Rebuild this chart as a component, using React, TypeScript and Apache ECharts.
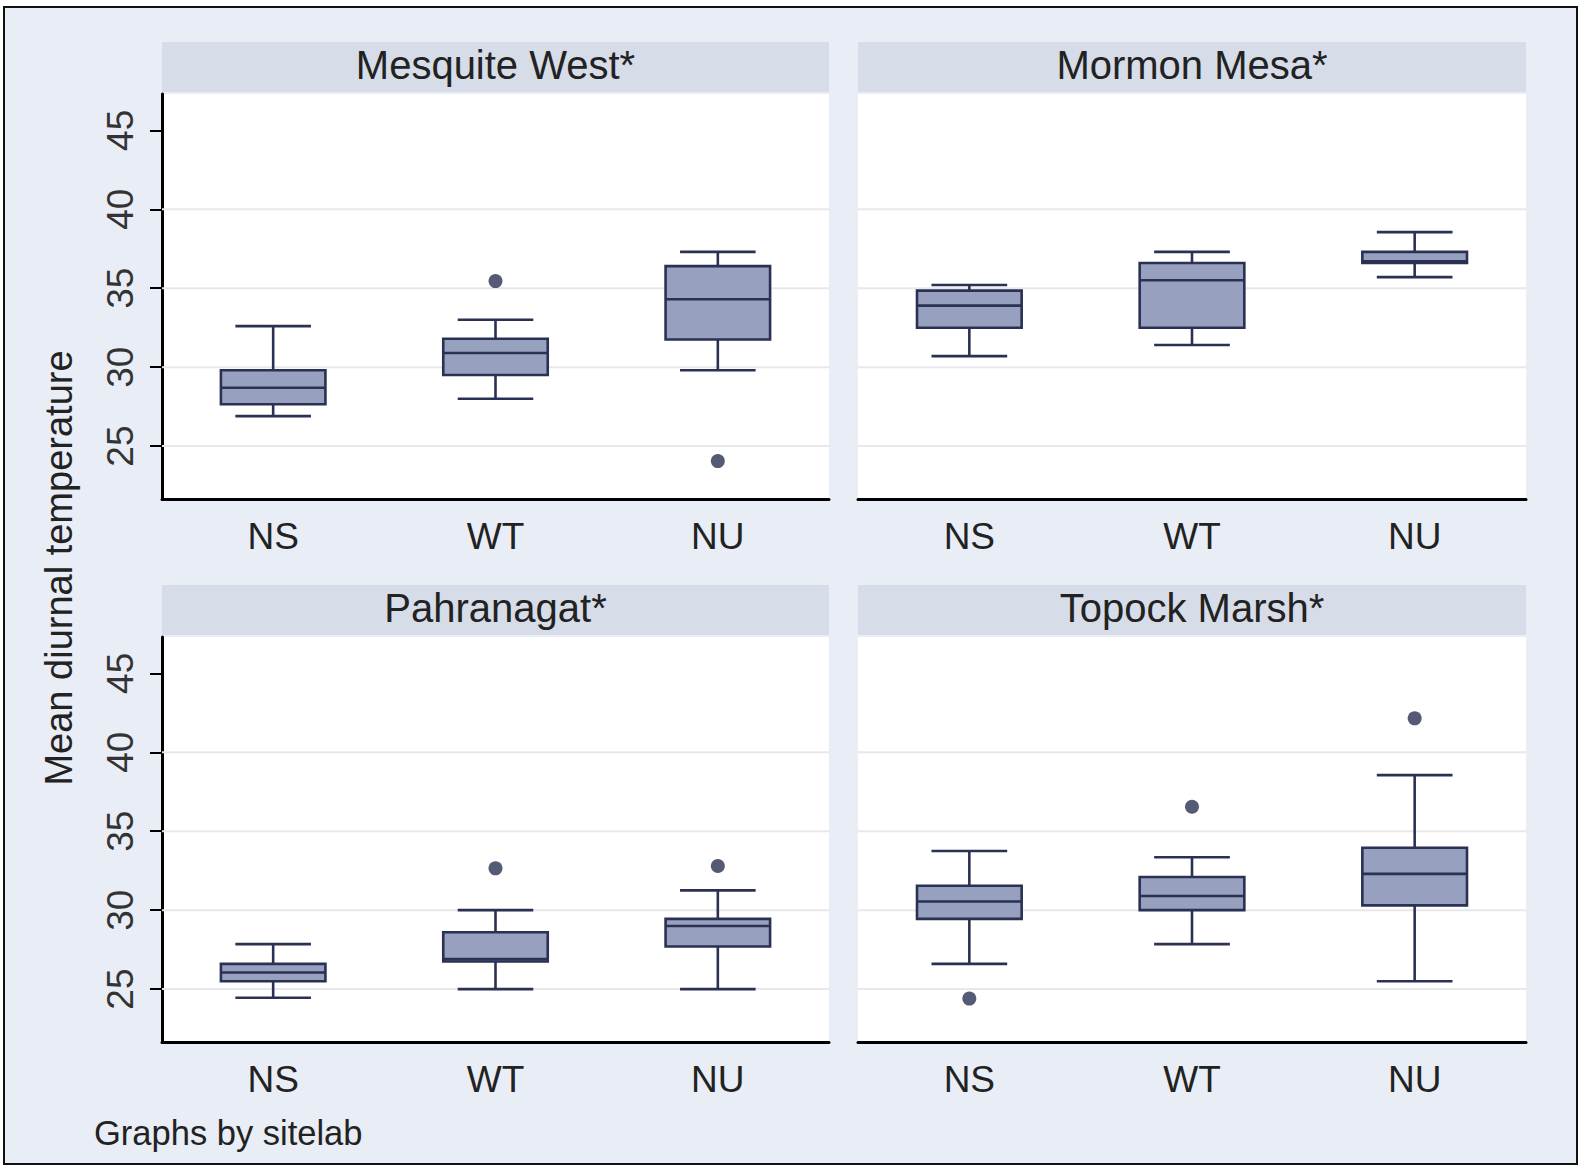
import React, { useEffect, useRef } from 'react';
import * as echarts from 'echarts';

// Groups on the x axis and the four sites shown as panels
const groups = ['NS', 'WT', 'NU'];
const sites = ['Mesquite West*', 'Mormon Mesa*', 'Pahranagat*', 'Topock Marsh*'];
const yTicks = [25, 30, 35, 40, 45];
const gridValues = [25, 30, 35, 40];

// Box summaries per group (NS, WT, NU): [lower whisker, Q1, median, Q3, upper whisker]
const mesquiteWest = [
  [26.9, 27.65, 28.7, 29.8, 32.6],
  [28.0, 29.5, 30.9, 31.8, 33.0],
  [29.8, 31.75, 34.3, 36.4, 37.3],
];
const mormonMesa = [
  [30.7, 32.5, 33.9, 34.85, 35.2],
  [31.4, 32.5, 35.5, 36.6, 37.3],
  [35.7, 36.6, 36.7, 37.3, 38.55],
];
const pahranagat = [
  [24.45, 25.5, 26.05, 26.6, 27.85],
  [25.0, 26.75, 26.9, 28.6, 30.0],
  [25.0, 27.7, 29.0, 29.45, 31.25],
];
const topockMarsh = [
  [26.6, 29.45, 30.55, 31.55, 33.75],
  [27.85, 30.0, 30.9, 32.1, 33.35],
  [25.5, 30.3, 32.3, 33.95, 38.55],
];

// Outside values: [group index, temperature]
const mesquiteWestOutliers = [[1, 35.45], [2, 24.05]];
const mormonMesaOutliers: number[][] = [];
const pahranagatOutliers = [[1, 32.65], [2, 32.8]];
const topockMarshOutliers = [[0, 24.4], [1, 36.55], [2, 42.15]];

const boxes = [mesquiteWest, mormonMesa, pahranagat, topockMarsh];
const outliers = [mesquiteWestOutliers, mormonMesaOutliers, pahranagatOutliers, topockMarshOutliers];

const FONT = '"Liberation Sans", Arial, sans-serif';
const INK = '#2a3152';
const BOX_FILL = '#97a1bf';
const HEADER_FILL = '#d6dce8';

// Panel geometry: [left, top, width, height]
const panels = [
  [162, 94, 667, 405],
  [858, 94, 668, 405],
  [162, 637, 667, 405],
  [858, 637, 668, 405],
];

function renderBox(params: any, api: any) {
  const i = api.value(0);
  const lo = api.coord([i, api.value(1)]);
  const q1 = api.coord([i, api.value(2)]);
  const med = api.coord([i, api.value(3)]);
  const q3 = api.coord([i, api.value(4)]);
  const hi = api.coord([i, api.value(5)]);
  const band = api.size([1, 0])[0];
  const bw = band * 0.47;
  const cw = band * 0.34;
  const cx = lo[0];
  const line = { stroke: INK, lineWidth: 2.6 };
  return {
    type: 'group',
    children: [
      { type: 'line', shape: { x1: cx, y1: hi[1], x2: cx, y2: q3[1] }, style: line },
      { type: 'line', shape: { x1: cx - cw / 2, y1: hi[1], x2: cx + cw / 2, y2: hi[1] }, style: line },
      { type: 'line', shape: { x1: cx, y1: q1[1], x2: cx, y2: lo[1] }, style: line },
      { type: 'line', shape: { x1: cx - cw / 2, y1: lo[1], x2: cx + cw / 2, y2: lo[1] }, style: line },
      {
        type: 'rect',
        shape: { x: cx - bw / 2, y: q3[1], width: bw, height: q1[1] - q3[1] },
        style: { fill: BOX_FILL, stroke: INK, lineWidth: 2.6 },
      },
      { type: 'line', shape: { x1: cx - bw / 2, y1: med[1], x2: cx + bw / 2, y2: med[1] }, style: line },
    ],
  };
}

function renderGridLine(params: any, api: any) {
  const p = api.coord([0, api.value(1)]);
  const cs = params.coordSys;
  return {
    type: 'line',
    shape: { x1: cs.x, y1: p[1], x2: cs.x + cs.width, y2: p[1] },
    style: { stroke: '#e8e8ec', lineWidth: 2 },
  };
}

export default function App() {
  const ref = useRef<HTMLDivElement>(null);

  useEffect(() => {
    if (!ref.current) return;
    const chart = echarts.init(ref.current, null, { renderer: 'svg' });

    const grid = panels.map(([left, top, width, height]) => ({
      left, top, width, height,
      show: true, backgroundColor: '#ffffff', borderWidth: 0, containLabel: false,
    }));

    const xAxis = panels.map((_, k) => ({
      type: 'category',
      gridIndex: k,
      data: groups,
      axisLine: { show: true, lineStyle: { color: '#000', width: 3 } },
      axisTick: { show: false },
      splitLine: { show: false },
      axisLabel: { fontSize: 37, fontFamily: FONT, color: '#222', margin: 19 },
    }));

    const yAxis = panels.map((_, k) => {
      const left = k % 2 === 0;
      return {
        type: 'value',
        gridIndex: k,
        min: 21.65,
        max: 47.3,
        show: left,
        splitLine: { show: false },
        axisLine: { show: left, lineStyle: { color: '#000', width: 3 } },
        axisTick: { show: left, customValues: yTicks, length: 12, lineStyle: { color: '#000', width: 2 } },
        axisLabel: {
          show: left, customValues: yTicks, rotate: 90, fontSize: 37,
          fontFamily: FONT, color: '#333', margin: 23,
        },
      };
    });

    const series: any[] = [];
    panels.forEach((_, k) => {
      series.push({
        type: 'custom',
        xAxisIndex: k, yAxisIndex: k,
        z: 1, silent: true,
        renderItem: renderGridLine,
        encode: { x: 0, y: 1 },
        data: gridValues.map((v) => [0, v]),
      });
      series.push({
        type: 'custom',
        name: sites[k],
        xAxisIndex: k, yAxisIndex: k,
        z: 3,
        renderItem: renderBox,
        encode: { x: 0, y: [1, 2, 3, 4, 5] },
        data: boxes[k].map((b, i) => [i, ...b]),
      });
      series.push({
        type: 'scatter',
        xAxisIndex: k, yAxisIndex: k,
        z: 4,
        symbol: 'circle',
        symbolSize: 14,
        itemStyle: { color: INK },
        data: outliers[k],
      });
    });

    const graphic: any[] = [];
    panels.forEach(([left, top, width], k) => {
      graphic.push({
        type: 'rect',
        shape: { x: left, y: top - 52, width, height: 50 },
        style: { fill: HEADER_FILL },
        silent: true,
      });
      graphic.push({
        type: 'text',
        x: left + width / 2,
        y: top - 29,
        style: {
          text: sites[k], fontSize: 40, fontFamily: FONT, fill: '#222',
          align: 'center', verticalAlign: 'middle',
        },
      });
    });
    graphic.push({
      type: 'text',
      x: 59,
      y: 568,
      rotation: Math.PI / 2,
      style: {
        text: 'Mean diurnal temperature', fontSize: 38, fontFamily: FONT, fill: '#222',
        align: 'center', verticalAlign: 'middle',
      },
    });
    graphic.push({
      type: 'text',
      x: 94,
      y: 1133,
      style: {
        text: 'Graphs by sitelab', fontSize: 34.5, fontFamily: FONT, fill: '#222',
        align: 'left', verticalAlign: 'middle',
      },
    });

    chart.setOption({
      animation: false,
      backgroundColor: 'transparent',
      grid,
      xAxis,
      yAxis,
      series,
      graphic,
    });

    return () => chart.dispose();
  }, []);

  return (
    <div style={{ position: 'absolute', left: 0, top: 0, width: 1585, height: 1167, background: '#ffffff' }}>
      <div
        style={{
          position: 'absolute', left: 3, top: 6, width: 1571, height: 1155,
          background: '#e9edf6', border: '2px solid #111',
        }}
      />
      <div ref={ref} style={{ position: 'absolute', left: 0, top: 0, width: 1585, height: 1167 }} />
    </div>
  );
}
